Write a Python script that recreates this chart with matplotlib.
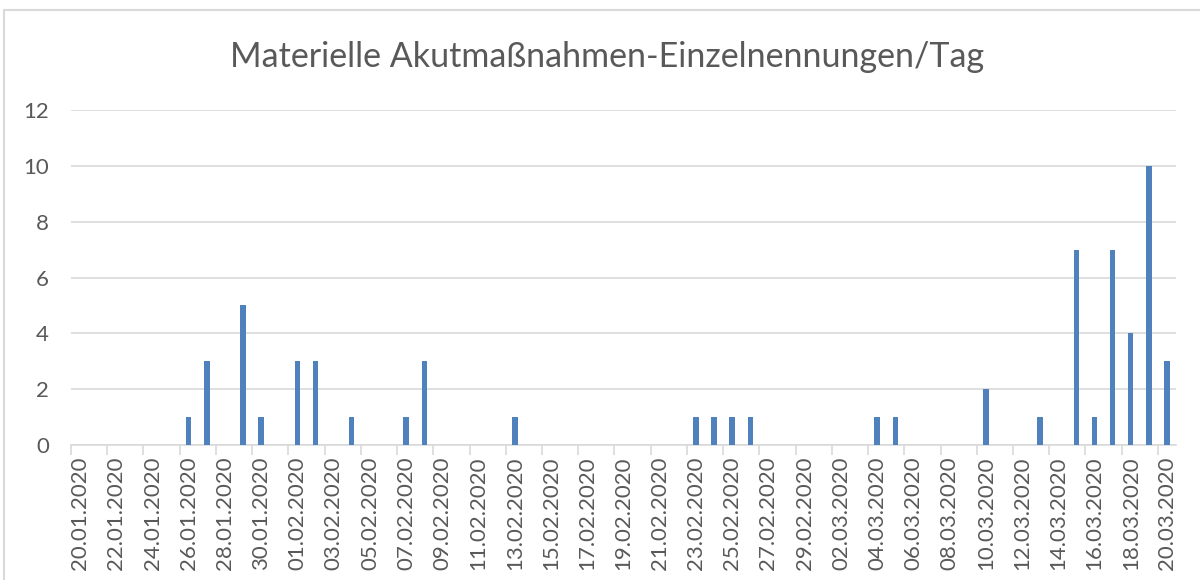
import numpy as np
import pandas as pd
import matplotlib
matplotlib.use("Agg")
import matplotlib.pyplot as plt
from matplotlib.patches import Rectangle

# days with entries (all other days are 0)
event_dates = ["26.01.2020", "27.01.2020", "29.01.2020", "30.01.2020",
               "01.02.2020", "02.02.2020", "04.02.2020", "07.02.2020",
               "08.02.2020", "13.02.2020", "23.02.2020", "24.02.2020",
               "25.02.2020", "26.02.2020", "04.03.2020", "05.03.2020",
               "10.03.2020", "13.03.2020", "15.03.2020", "16.03.2020",
               "17.03.2020", "18.03.2020", "19.03.2020", "20.03.2020"]
event_counts = [1, 3, 5, 1,
                3, 3, 1, 1,
                3, 1, 1, 1,
                1, 1, 1, 1,
                2, 1, 7, 1,
                7, 4, 10, 3]

title = "Materielle Akutmaßnahmen-Einzelnennungen/Tag"
y_ticks = [0, 2, 4, 6, 8, 10, 12]

days = pd.date_range("2020-01-20", "2020-03-20", freq="D")
counts = pd.Series(event_counts, index=pd.to_datetime(event_dates, format="%d.%m.%Y"))
counts = counts.reindex(days, fill_value=0)
labels = [d.strftime("%d.%m.%Y") for d in days]

plt.rcParams['font.family'] = ['Lato', 'DejaVu Sans']
grey = '#595959'
line_grey = '#D9D9D9'

fig = plt.figure(figsize=(12, 5.8), dpi=100)
ax = fig.add_axes([71/1200, 1 - 445/580, (1176 - 71)/1200, (445 - 110)/580])

x = np.arange(len(days))
ax.bar(x, counts.values, width=0.3, color='#4F81BD', zorder=3)

ax.set_xlim(-0.5, len(days) - 0.5)
ax.set_ylim(0, 12)
ax.set_yticks(y_ticks)
ax.yaxis.grid(True, color=line_grey, linewidth=1.2)
ax.tick_params(axis='y', length=0, pad=16, labelsize=16, labelcolor=grey)

# tick marks between categories, labels on categories
ax.set_xticks(np.arange(-0.5, len(days) - 1, 2))
ax.set_xticklabels([])
ax.set_xticks(x[::2], minor=True)
ax.set_xticklabels(labels[::2], minor=True, rotation=90, fontsize=16, color=grey)
ax.tick_params(axis='x', which='major', length=7, color=line_grey, width=1.2)
ax.tick_params(axis='x', which='minor', length=0, pad=8)

for s in ['top', 'right', 'left']:
    ax.spines[s].set_visible(False)
ax.spines['bottom'].set_color(line_grey)
ax.spines['bottom'].set_linewidth(1.2)

fig.text(0.506, 1 - 57/580, title, ha='center', va='center', fontsize=24.5, color=grey)

# chart area border (cut off on right/bottom)
fig.add_artist(Rectangle((4/1200, -0.1), 1.2, 1 - 10/580 + 0.1, transform=fig.transFigure,
                         fill=False, edgecolor=line_grey, linewidth=1.5))

fig.savefig("out.png", dpi=100)
